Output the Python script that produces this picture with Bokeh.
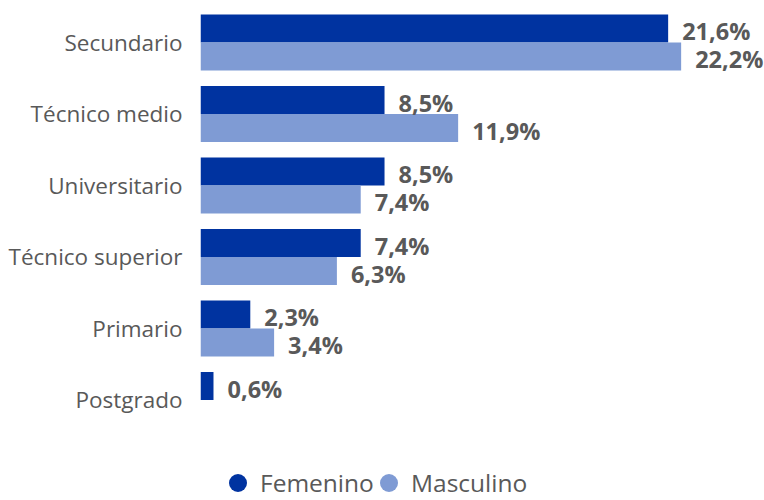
from bokeh.plotting import figure
from bokeh.models import ColumnDataSource, Range1d, Legend, LegendItem, FixedTicker
from bokeh.core.properties import value
from bokeh.embed import file_html
from bokeh.resources import INLINE

categories = ["Secundario", "Técnico medio", "Universitario", "Técnico superior", "Primario", "Postgrado"]
femenino = [21.6, 8.5, 8.5, 7.4, 2.3, 0.6]
masculino = [22.2, 11.9, 7.4, 6.3, 3.4, 0.0]
series_names = ["Femenino", "Masculino"]
colors = ["#0033A0", "#7F9BD4"]
label_color = "#595959"
FONT = "Open Sans"

def fmt(v):
    return ("%.1f%%" % v).replace(".", ",") if v > 0 else ""

n = len(categories)
pos = [n - 1 - i for i in range(n)]   # Secundario on top
bh = 0.392

src = ColumnDataSource(dict(
    pos=pos,
    fem_y=[y + bh / 2 for y in pos],
    masc_y=[y - bh / 2 for y in pos],
    fem=femenino,
    masc=masculino,
    fem_lbl=[fmt(v) for v in femenino],
    masc_lbl=[fmt(v) for v in masculino],
))

p = figure(
    width=764, height=500,
    y_range=Range1d(-1.406, 5.587),
    x_range=Range1d(0, 26.05),
    output_backend="svg", toolbar_location=None,
    min_border_left=200, min_border_right=0, min_border_top=0, min_border_bottom=0,
)
p.outline_line_color = None
p.xaxis.visible = False
p.xgrid.grid_line_color = None
p.ygrid.grid_line_color = None
p.yaxis.ticker = FixedTicker(ticks=pos)
p.yaxis.major_label_overrides = {y: c for y, c in zip(pos, categories)}
p.yaxis.axis_line_color = None
p.yaxis.major_tick_line_color = None
p.yaxis.minor_tick_line_color = None
p.yaxis.major_label_text_font = FONT
p.yaxis.major_label_text_font_size = "22.5px"
p.yaxis.major_label_text_color = label_color
p.yaxis.major_label_standoff = 12

p.hbar(y="fem_y", right="fem", left=0, height=bh, source=src,
       fill_color=colors[0], line_color=None)
p.hbar(y="masc_y", right="masc", left=0, height=bh, source=src,
       fill_color=colors[1], line_color=None)

for col, ycol, lbl in [("fem", "fem_y", "fem_lbl"), ("masc", "masc_y", "masc_lbl")]:
    p.text(x=col, y=ycol, text=lbl, source=src,
           x_offset=14, y_offset=3, text_baseline="middle", text_align="left",
           text_font=value(FONT), text_font_style="bold", text_font_size="23.5px",
           text_color=label_color)

nan = float("nan")
legend_locs = [(15, -5), (166, -5)]
for name, color, loc in zip(series_names, colors, legend_locs):
    r = p.scatter(x=[nan], y=[nan], marker="circle", size=18, fill_color=color, line_color=None)
    lg = Legend(items=[LegendItem(label=name, renderers=[r])],
                orientation="horizontal", location=loc,
                label_text_font=FONT, label_text_font_size="24.5px",
                label_text_color=label_color, border_line_color=None,
                background_fill_alpha=0, glyph_width=45, glyph_height=45,
                label_standoff=0, spacing=0, padding=0, margin=0)
    p.add_layout(lg, "center")

open("out.html", "w").write(file_html(p, INLINE))
